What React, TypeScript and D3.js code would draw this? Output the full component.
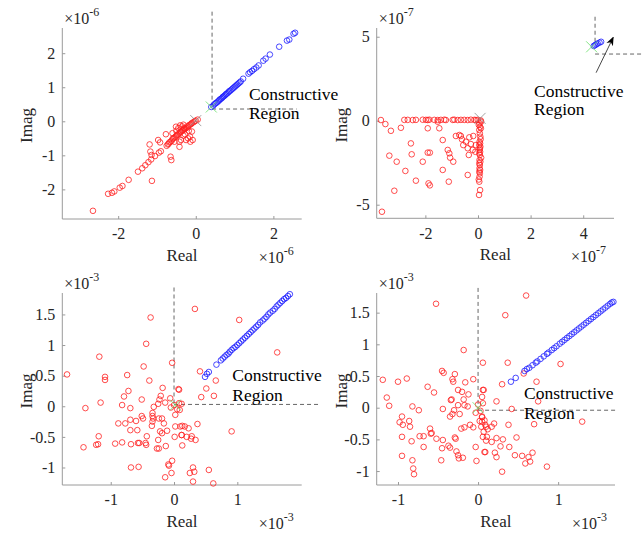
import { useEffect, useRef } from 'react';
import * as d3 from 'd3';

type Pt = [number, number];

// values are in the units shown on each panel (x1e-6, x1e-7, x1e-3, x1e-3)
const red1: Pt[] = [
  [-2.65, -2.63], [-2.26, -2.13], [-2.16, -2.1], [-2.1, -2.06], [-1.96, -1.95], [-1.89, -1.9], [-1.73, -1.72],
  [-1.49, -1.48], [-1.38, -1.38], [-1.3, -1.29], [-1.22, -1.2], [-1.15, -1.12], [-1.05, -1.02], [-0.95, -0.92],
  [-0.9, -0.88], [-1.13, -1.75], [-1.19, -0.68], [-1.17, -0.89], [-1.14, -0.99], [-0.97, -0.55], [-0.92, -0.62],
  [-0.77, -0.38], [-0.63, -1.14], [-0.65, -1.04], [-0.42, -0.75], [-0.51, -0.16], [-0.14, -0.6], [-0.75, -0.72],
  [-0.72, -0.68], [-0.7, -0.66], [-0.68, -0.62], [-0.65, -0.6], [-0.62, -0.57], [-0.6, -0.52], [-0.58, -0.5],
  [-0.55, -0.48], [-0.52, -0.45], [-0.5, -0.42], [-0.48, -0.4], [-0.45, -0.38], [-0.42, -0.35], [-0.4, -0.32],
  [-0.38, -0.3], [-0.35, -0.28], [-0.33, -0.26], [-0.3, -0.24], [-0.28, -0.22], [-0.25, -0.2], [-0.22, -0.18],
  [-0.2, -0.15], [-0.18, -0.12], [-0.15, -0.1], [-0.12, -0.08], [-0.1, -0.05], [-0.06, -0.03], [-0.03, 0.0],
  [0.0, 0.02], [0.05, 0.05], [-0.45, -0.2], [-0.35, -0.15], [-0.3, -0.2], [-0.25, -0.55], [-0.2, -0.5],
  [-0.38, -0.55], [-0.55, -0.6], [-0.5, -0.28], [-0.6, -0.35], [-0.15, -0.45], [-0.1, -0.3], [-0.08, -0.55],
  [-0.42, -0.6], [-0.32, -0.42], [-0.28, -0.38], [-0.18, -0.28], [-0.4, -0.12], [-0.32, -0.1]
];
const blue1: Pt[] = [
  [0.4, 0.42], [0.45, 0.46], [0.48, 0.5], [0.51, 0.53], [0.54, 0.55], [0.57, 0.58], [0.6, 0.61], [0.62, 0.64],
  [0.65, 0.66], [0.68, 0.69], [0.7, 0.72], [0.73, 0.74], [0.76, 0.77], [0.78, 0.8], [0.81, 0.82], [0.84, 0.85],
  [0.86, 0.88], [0.89, 0.9], [0.92, 0.93], [0.95, 0.96], [0.98, 0.99], [1.01, 1.02], [1.04, 1.05], [1.07, 1.08],
  [1.1, 1.11], [1.13, 1.14], [1.16, 1.17], [1.22, 1.25], [1.36, 1.4], [1.4, 1.44], [1.45, 1.48], [1.5, 1.53],
  [1.56, 1.58], [1.62, 1.64], [1.74, 1.78], [1.8, 1.84], [1.91, 1.96], [2.15, 2.19], [2.35, 2.37], [2.41, 2.4],
  [2.52, 2.57], [2.56, 2.6]
];

const red2: Pt[] = [
  // row along imag = 0
  [-3.69, 0.04], [-2.8, 0.05], [-2.67, 0.05], [-2.48, 0.04], [-2.36, 0.05], [-2.1, 0.06], [-1.98, 0.05],
  [-1.91, 0.04], [-1.85, 0.06], [-1.66, 0.05], [-1.53, 0.04], [-1.41, 0.05], [-1.28, 0.06], [-1.22, 0.04],
  [-0.96, 0.05], [-0.9, 0.06], [-0.77, 0.04], [-0.65, 0.05], [-0.52, 0.05], [-0.39, 0.04], [-0.27, 0.06],
  [-0.14, 0.05], [-0.08, 0.04], [-0.01, 0.05],
  // column along real = 0
  [0.06, -0.15], [0.08, -0.36], [0.05, -0.55], [0.07, -0.75], [0.09, -0.95], [0.06, -1.25], [0.08, -1.35],
  [0.05, -1.45], [0.09, -1.55], [0.07, -1.64], [0.06, -1.74], [0.08, -1.85], [0.05, -1.94], [0.07, -2.04],
  [0.06, -2.34], [0.09, -2.44], [0.05, -2.54], [0.07, -2.64], [0.06, -2.83], [0.08, -2.93], [0.05, -3.03],
  [0.07, -3.13], [0.06, -3.33], [0.05, -3.63], [0.08, -4.13], [0.04, -4.42], [0.1, 0.02], [0.12, -0.05],
  [0.03, -0.25], [0.11, -0.45], [0.1, -1.1], [0.12, -2.2], [0.03, -3.5],
  // scattered
  [-3.52, -0.2], [-3.31, -0.6], [-2.93, -0.42], [-2.55, -1.35], [-3.37, -2.08], [-3.09, -2.44], [-2.76, -2.99],
  [-2.52, -2.0], [-2.36, -3.57], [-2.1, -2.44], [-1.91, -1.9], [-1.83, -1.9], [-1.91, -0.45], [-1.88, -3.73],
  [-1.83, -3.85], [-1.53, -0.06], [-1.47, -0.45], [-1.34, -1.15], [-1.34, -2.93], [-1.15, -1.74], [-1.09, -1.94],
  [-1.06, -2.2], [-0.94, -2.44], [-1.11, -3.63], [-0.84, -0.91], [-0.71, -0.85], [-0.65, -0.91], [-0.61, -1.11],
  [-0.56, -1.45], [-0.46, -1.25], [-0.39, -1.64], [-0.35, -2.04], [-0.27, -1.39], [-0.2, -1.74], [-0.1, -1.85],
  [-0.39, -3.23], [-0.33, -0.99], [-3.18, -4.17], [-3.65, -5.42], [-0.18, -0.91], [-0.08, -1.45]
];
const blue2: Pt[] = [[4.4, 4.45], [4.45, 4.5], [4.5, 4.55], [4.55, 4.6], [4.62, 4.65], [4.68, 4.7]];

const red3: Pt[] = [
  [-0.37, 1.45], [-0.44, 1.02], [-1.18, 0.81], [-1.69, 0.52], [-1.09, 0.48], [-1.09, 0.43], [-0.74, 0.51],
  [-0.48, 0.65], [-0.39, 0.42], [-0.03, 0.71], [-0.18, 0.3], [0.07, 0.28], [-0.72, 0.25], [-0.79, 0.16],
  [-0.51, 0.11], [-0.21, 0.17], [-0.23, 0.11], [-1.4, -0.03], [-1.16, 0.06], [-0.82, 0.02], [-0.69, -0.03],
  [-0.32, -0.01], [-0.25, 0.04], [-0.14, 0.06], [-0.06, 0.13], [-0.34, -0.11], [-0.34, -0.16], [-0.33, -0.2],
  [-0.34, -0.25], [-0.35, -0.32], [-0.51, -0.16], [-0.49, -0.2], [-0.88, -0.28], [-0.77, -0.28], [-0.69, -0.22],
  [-0.6, -0.24], [-0.69, -0.39], [-0.58, -0.39], [-0.43, -0.49], [-0.24, -0.2], [-0.19, -0.2], [-0.16, -0.28],
  [-0.11, -0.4], [-0.22, -0.41], [-0.19, -0.44], [-0.25, -0.55], [-0.24, -0.69], [-0.13, -0.65], [-1.19, -0.49],
  [-1.2, -0.62], [-1.23, -0.63], [-1.43, -0.67], [-0.93, -0.61], [-0.82, -0.59], [-0.68, -0.62], [-0.57, -0.6],
  [-0.55, -0.6], [-0.45, -0.6], [-0.44, -0.63], [-0.27, -0.69], [-0.68, -1.0], [-0.56, -0.99], [-0.08, -0.97],
  [-0.09, -0.95], [-0.03, -0.89], [-0.04, -1.09], [-0.14, -1.16], [0.01, -0.5], [0.02, -0.33], [0.1, -0.33],
  [0.12, -0.47], [0.02, -0.14], [0.0, 0.02], [0.05, -0.05], [0.08, 0.05], [-0.05, -0.02], [0.33, 1.59],
  [1.03, 1.41], [1.63, 0.88], [0.41, 0.57], [0.66, 0.42], [0.51, 0.29], [0.43, 0.15], [0.63, 0.17], [0.08, 0.27],
  [0.12, 0.04], [0.09, -0.06], [0.37, -0.29], [0.91, -0.41], [0.13, -0.32], [0.17, -0.33], [0.23, -0.36],
  [0.12, -0.47], [0.2, -0.5], [0.28, -0.49], [0.27, -0.53], [0.34, -0.55], [0.13, -0.64], [0.3, -1.0],
  [0.25, -1.09], [0.32, -1.07], [0.55, -1.04], [0.3, -1.23], [0.62, -1.26]
];
const blue3: Pt[] = [
  [0.49, 0.48], [0.52, 0.53], [0.55, 0.56], [0.67, 0.68], [0.74, 0.75], [0.77, 0.78], [0.8, 0.81], [0.83, 0.84],
  [0.86, 0.86], [0.88, 0.89], [0.91, 0.92], [0.94, 0.95], [0.97, 0.97], [1.0, 1.0], [1.03, 1.03], [1.06, 1.06],
  [1.09, 1.09], [1.12, 1.12], [1.15, 1.15], [1.18, 1.18], [1.21, 1.21], [1.24, 1.24], [1.27, 1.27], [1.3, 1.3],
  [1.33, 1.33], [1.36, 1.37], [1.4, 1.4], [1.43, 1.43], [1.46, 1.46], [1.49, 1.5], [1.52, 1.53], [1.56, 1.56],
  [1.59, 1.59], [1.62, 1.63], [1.65, 1.66], [1.68, 1.69], [1.71, 1.72], [1.74, 1.75], [1.77, 1.77], [1.8, 1.8],
  [1.83, 1.83]
];

const red4: Pt[] = [
  [-0.525, 1.64], [-0.18, 0.91], [0.06, 0.71], [-0.45, 0.58], [-0.43, 0.55], [-0.29, 0.53], [-1.19, 0.44],
  [-1.0, 0.41], [-0.89, 0.46], [-0.63, 0.33], [-0.55, 0.24], [-0.32, 0.45], [-0.31, 0.41], [-0.25, 0.28],
  [-0.16, 0.4], [-0.06, 0.45], [-0.2, 0.25], [-0.12, 0.21], [0.06, 0.28], [-1.14, 0.16], [-1.11, 0.03],
  [-0.82, 0.02], [-0.74, -0.04], [-0.34, 0.12], [-0.33, 0.13], [-0.44, -0.02], [-0.18, 0.13], [-0.25, 0.04],
  [-0.17, 0.04], [-0.13, 0.02], [-0.3, -0.04], [-0.35, -0.14], [-0.32, -0.1], [-0.23, -0.1], [-0.95, -0.14],
  [-0.98, -0.23], [-0.94, -0.27], [-0.86, -0.21], [-0.85, -0.3], [-0.95, -0.46], [-0.83, -0.53], [-0.6, -0.33],
  [-0.58, -0.4], [-0.59, -0.41], [-0.73, -0.45], [-0.68, -0.45], [-0.68, -0.62], [-0.52, -0.49], [-0.44, -0.51],
  [-0.45, -0.64], [-0.29, -0.47], [-0.28, -0.49], [-0.37, -0.6], [-0.35, -0.63], [-0.27, -0.69], [-0.25, -0.75],
  [-0.24, -0.8], [-0.19, -0.79], [-0.21, -0.33], [-0.17, -0.31], [-0.1, -0.27], [-0.06, -0.31], [-0.03, -0.62],
  [-0.02, -0.84], [-0.46, -0.83], [-0.82, -0.83], [-0.81, -0.96], [-0.8, -1.05], [-0.95, -0.76], [0.0, 0.05],
  [0.03, -0.05], [-0.03, -0.08], [0.05, -0.15], [0.08, -0.2], [0.05, -0.22], [0.1, -0.3], [0.05, -0.14],
  [0.02, -0.21], [0.04, -0.3], [0.07, -0.38], [0.06, -0.46], [0.08, -0.7], [0.6, 1.77], [0.34, 1.46],
  [0.37, 0.71], [1.03, 0.69], [0.57, 0.54], [0.73, 0.41], [0.3, 0.37], [0.23, 0.1], [0.75, 0.1], [0.42, -0.02],
  [0.07, 0.28], [0.05, 0.17], [0.06, 0.07], [1.3, -0.22], [0.7, -0.26], [0.38, -0.27], [0.2, -0.25],
  [0.09, -0.27], [0.12, -0.34], [0.17, -0.3], [0.11, -0.46], [0.1, -0.52], [0.17, -0.54], [0.23, -0.48],
  [0.31, -0.5], [0.28, -0.61], [0.48, -0.47], [0.39, -0.62], [0.09, -0.7], [0.21, -0.71], [0.23, -0.78],
  [0.46, -0.75], [0.55, -0.76], [0.63, -0.78], [0.68, -0.71], [0.65, -0.85], [0.59, -0.88], [0.86, -0.93],
  [0.3, -1.01]
];
const blue4: Pt[] = [
  [0.41, 0.41], [0.47, 0.47], [0.58, 0.58], [0.61, 0.61], [0.64, 0.63], [0.68, 0.67], [0.72, 0.71], [0.74, 0.73],
  [0.78, 0.77], [0.82, 0.81], [0.86, 0.85], [0.88, 0.87], [0.92, 0.91], [0.95, 0.94], [0.98, 0.97], [1.02, 1.01],
  [1.05, 1.04], [1.08, 1.07], [1.11, 1.1], [1.14, 1.13], [1.17, 1.16], [1.2, 1.19], [1.23, 1.22], [1.26, 1.25],
  [1.29, 1.28], [1.32, 1.31], [1.35, 1.34], [1.38, 1.37], [1.41, 1.4], [1.44, 1.43], [1.47, 1.46], [1.5, 1.49],
  [1.53, 1.52], [1.56, 1.55], [1.59, 1.58], [1.62, 1.61], [1.65, 1.64], [1.67, 1.66], [1.69, 1.67]
];

const xTicks = [[-2, 0, 2], [-2, 0, 2, 4], [-1, 0, 1], [-1, 0, 1]];
const yTicks = [[-2, -1, 0, 1, 2], [-5, 0, 5], [-1, -0.5, 0, 0.5, 1, 1.5], [-1, -0.5, 0, 0.5, 1, 1.5]];
const exponents = ['-6', '-7', '-3', '-3'];

const panels = [
  { box: [62.3, 301.7, 28, 219], xd: [-3.44, 2.73], yd: [-2.87, 2.74], red: red1, blue: blue1,
    green: [0.4, 0.42] as Pt, gray: [0, 0.02] as Pt,
    vline: [0.42, 3.22, 0.37], hline: [0.36, 0.42, 2.6], text: [1.37, 0.63, 0.07], arrow: null as number[] | null },
  { box: [376.7, 614, 28, 218.3], xd: [-3.85, 5.17], yd: [-5.81, 5.52], red: red2, blue: blue2,
    green: [4.32, 4.4] as Pt, gray: [0.08, 0.14] as Pt,
    vline: [4.45, 6.19, 4.5], hline: [3.97, 4.45, 6.24], text: [2.13, 1.43, 0.34], arrow: [4.49, 2.86, 5.14, 4.96] },
  { box: [62.3, 301.7, 293, 485], xd: [-1.765, 2.017], yd: [-1.286, 1.85], red: red3, blue: blue3,
    green: [0.02, 0.02] as Pt, gray: null,
    vline: [0, 1.94, 0.03], hline: [0.03, 0, 2.31], text: [0.92, 0.41, 0.08], arrow: null },
  { box: [376.7, 615, 293, 485], xd: [-1.266, 1.71], yd: [-1.22, 1.81], red: red4, blue: blue4,
    green: [0, 0] as Pt, gray: null,
    vline: [0, 1.89, -0.04], hline: [-0.04, 0, 1.73], text: [0.575, 0.13, -0.18], arrow: null }
];

const FONT = '"Liberation Serif", "Times New Roman", serif';

export default function App() {
  const svgRef = useRef<SVGSVGElement>(null);

  useEffect(() => {
    if (!svgRef.current) return;
    const svg = d3.select(svgRef.current);
    svg.selectAll('*').remove();

    svg.append('defs').append('marker')
      .attr('id', 'arrowHead')
      .attr('viewBox', '0 0 10 10')
      .attr('refX', 9).attr('refY', 5)
      .attr('markerWidth', 9).attr('markerHeight', 9)
      .attr('markerUnits', 'userSpaceOnUse')
      .attr('orient', 'auto')
      .append('path')
      .attr('d', 'M0,1 L10,5 L0,9 L3,5 Z')
      .attr('fill', '#000');

    panels.forEach((p, i) => {
      const [left, right, top, bottom] = p.box;
      const x = d3.scaleLinear().domain(p.xd).range([left, right]);
      const y = d3.scaleLinear().domain(p.yd).range([bottom, top]);
      const g = svg.append('g').attr('font-family', FONT);

      // axes (MATLAB style, box off, ticks inside)
      const xAxis = g.append('g').attr('transform', `translate(0,${bottom})`)
        .call(d3.axisBottom(x).tickValues(xTicks[i]).tickSize(-3).tickPadding(9).tickFormat(d => `${d}`));
      const yAxis = g.append('g').attr('transform', `translate(${left},0)`)
        .call(d3.axisLeft(y).tickValues(yTicks[i]).tickSize(-3).tickPadding(7).tickFormat(d => `${d}`));
      [xAxis, yAxis].forEach(a => {
        a.select('.domain').attr('stroke', '#9a9a9a').attr('stroke-width', 1)
          .attr('d', a === xAxis ? `M${left},0H${right}` : `M0,${bottom}V${top}`);
        a.selectAll('.tick line').attr('stroke', '#9a9a9a');
        a.selectAll('.tick text').attr('fill', '#262626').attr('font-size', 16).attr('font-family', FONT);
      });

      g.append('text')
        .attr('x', (left + right) / 2).attr('y', bottom + 42)
        .attr('text-anchor', 'middle').attr('font-size', 17).attr('fill', '#262626')
        .text('Real');
      g.append('text')
        .attr('transform', `translate(${left - 30},${(top + bottom) / 2 + 2}) rotate(-90)`)
        .attr('text-anchor', 'middle').attr('font-size', 17).attr('fill', '#262626')
        .text('Imag');

      // exponent labels
      const expo = (tx: number, ty: number) => {
        const t = g.append('text').attr('x', tx).attr('y', ty).attr('font-size', 16).attr('fill', '#262626');
        t.append('tspan').text('×10');
        t.append('tspan').attr('dy', -8).attr('font-size', 12).text(exponents[i]);
      };
      expo(left + 2, top - 4);
      expo(right - 43, bottom + 44);

      // dashed guide lines
      const [vx, vy0, vy1] = p.vline;
      const [hy, hx0, hx1] = p.hline;
      g.append('line')
        .attr('x1', x(vx)).attr('x2', x(vx)).attr('y1', y(vy0)).attr('y2', y(vy1))
        .attr('stroke', '#555').attr('stroke-dasharray', '4,3').attr('stroke-width', 0.9);
      g.append('line')
        .attr('x1', x(hx0)).attr('x2', x(hx1)).attr('y1', y(hy)).attr('y2', y(hy))
        .attr('stroke', '#555').attr('stroke-dasharray', '4,3').attr('stroke-width', 0.9);

      // scatter
      g.append('g').selectAll('circle').data(p.red).join('circle')
        .attr('cx', d => x(d[0])).attr('cy', d => y(d[1])).attr('r', 2.8)
        .attr('fill', 'none').attr('stroke', '#ff2020').attr('stroke-width', 0.8);
      g.append('g').selectAll('circle').data(p.blue).join('circle')
        .attr('cx', d => x(d[0])).attr('cy', d => y(d[1])).attr('r', 2.8)
        .attr('fill', 'none').attr('stroke', '#1a1aff').attr('stroke-width', 0.8);

      const cross = (pt: Pt, color: string) => {
        const cx = x(pt[0]), cy = y(pt[1]), s = 5.5;
        g.append('path')
          .attr('d', `M${cx - s},${cy - s}L${cx + s},${cy + s}M${cx - s},${cy + s}L${cx + s},${cy - s}`)
          .attr('stroke', color).attr('stroke-width', 0.8).attr('fill', 'none');
      };
      if (p.gray) cross(p.gray, '#8c8c8c');
      cross(p.green, '#66e066');

      if (p.arrow) {
        const [ax0, ay0, ax1, ay1] = p.arrow;
        g.append('line')
          .attr('x1', x(ax0)).attr('y1', y(ay0)).attr('x2', x(ax1)).attr('y2', y(ay1))
          .attr('stroke', '#333').attr('stroke-width', 0.9).attr('marker-end', 'url(#arrowHead)');
      }

      const [tx, ty0, ty1] = p.text;
      g.append('text').attr('x', x(tx)).attr('y', y(ty0)).attr('font-size', 17.5).attr('fill', '#000').text('Constructive');
      g.append('text').attr('x', x(tx)).attr('y', y(ty1)).attr('font-size', 17.5).attr('fill', '#000').text('Region');
    });
  }, []);

  return (
    <svg ref={svgRef} width={643} height={535}
      style={{ position: 'absolute', left: 0, top: 0, background: '#fff' }} />
  );
}
